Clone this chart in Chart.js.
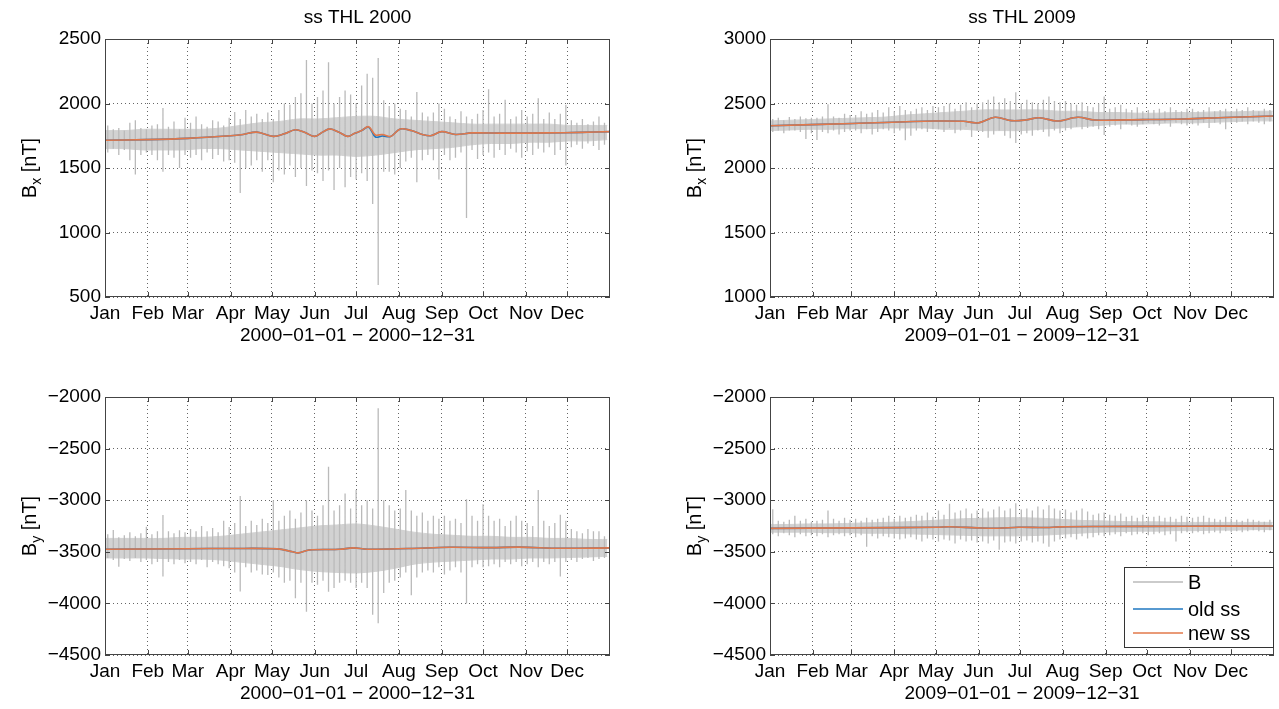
<!DOCTYPE html>
<html>
<head>
<meta charset="utf-8">
<script src="https://cdn.jsdelivr.net/npm/chart.js@4.4.1/dist/chart.umd.min.js"></script>
<style>
  html, body { margin: 0; padding: 0; background: #fff; overflow: hidden; }
  canvas { position: absolute; }
</style>
</head>
<body>
<canvas id="c1" width="640" height="351" style="left:0px;top:0px"></canvas>
<canvas id="c2" width="614" height="351" style="left:665px;top:0px"></canvas>
<canvas id="c3" width="640" height="351" style="left:0px;top:358px"></canvas>
<canvas id="c4" width="614" height="351" style="left:665px;top:358px"></canvas>
<script>
// month labels and the day each month starts on
const monthNames = ['Jan', 'Feb', 'Mar', 'Apr', 'May', 'Jun', 'Jul', 'Aug', 'Sep', 'Oct', 'Nov', 'Dec'];
const monthStarts2000 = [0, 31, 60, 91, 121, 152, 182, 213, 244, 274, 305, 335];
const monthStarts2009 = [0, 31, 59, 90, 120, 151, 181, 212, 243, 273, 304, 334];

// B: max / min of the raw field in 4-day bins
const bx2000Hi = [
  1830, 1800, 1810, 1790, 1850, 1870, 1810, 1800,
  1830, 1840, 1965, 1820, 1860, 1800, 1890,
  1850, 1900, 1840, 1820, 1870, 1860, 1830, 1890,
  1935, 1880, 1950, 1900, 1920, 1880, 1930,
  1880, 1950, 2000, 1990, 2050, 2080, 2337, 2000,
  2050, 2100, 2320, 2000, 2050, 2100, 2070, 2000,
  2140, 2230, 2200, 2352, 2025, 1980, 2000,
  1960, 1950, 1900, 2090, 1930, 1900, 1930, 2000,
  1960, 1900, 1880, 1940, 1900, 1880, 1920, 1950,
  2110, 1900, 1920, 2030, 1880, 1900, 1950,
  1900, 1920, 2040, 1880, 1930, 1880, 1920, 1990,
  1870, 1850, 1880, 1840, 1860, 1900, 1850, 1870
];
const bx2000Lo = [
  1620, 1650, 1600, 1640, 1560, 1450, 1600, 1620,
  1600, 1560, 1470, 1600, 1580, 1500, 1600,
  1580, 1600, 1560, 1620, 1570, 1600, 1550, 1560,
  1540, 1306, 1500, 1520, 1560, 1470, 1560,
  1390, 1480, 1450, 1520, 1430, 1500, 1360, 1480,
  1460, 1400, 1480, 1330, 1500, 1350, 1430, 1410,
  1460, 1400, 1220, 593, 1470, 1470, 1450,
  1500, 1550, 1580, 1390, 1560, 1600, 1560, 1410,
  1600, 1560, 1580, 1620, 1113, 1640, 1570, 1600,
  1620, 1580, 1640, 1600, 1650, 1620, 1580,
  1630, 1600, 1650, 1620, 1660, 1600, 1640, 1520,
  1660, 1680, 1650, 1690, 1670, 1640, 1680, 1690
];
const bx2009Hi = [
  2380, 2390, 2370, 2395, 2380, 2400, 2385, 2390,
  2390, 2400, 2495, 2400, 2390, 2420, 2410,
  2410, 2440, 2420, 2430, 2450, 2430, 2470, 2440,
  2480, 2450, 2440, 2460, 2470, 2450, 2480,
  2470, 2480, 2500, 2460, 2490, 2510, 2470, 2500,
  2510, 2530, 2554, 2510, 2540, 2520, 2587, 2500,
  2530, 2510, 2500, 2530, 2554, 2520, 2510,
  2520, 2500, 2490, 2510, 2480, 2470, 2500, 2554,
  2460, 2470, 2490, 2460, 2450, 2470, 2440, 2450,
  2450, 2460, 2440, 2470, 2450, 2440, 2460,
  2460, 2440, 2450, 2470, 2440, 2450, 2460, 2440,
  2460, 2450, 2470, 2450, 2440, 2460, 2450, 2460
];
const bx2009Lo = [
  2280, 2290, 2270, 2290, 2290, 2280, 2225, 2270,
  2218, 2280, 2270, 2290, 2260, 2280, 2290,
  2290, 2270, 2300, 2260, 2280, 2300, 2290, 2270,
  2290, 2215, 2250, 2290, 2300, 2280, 2300,
  2300, 2280, 2310, 2270, 2290, 2320, 2240, 2290,
  2280, 2235, 2260, 2290, 2250, 2230, 2194, 2260,
  2270, 2250, 2290, 2280, 2245, 2290, 2270,
  2290, 2300, 2320, 2300, 2310, 2320, 2300, 2255,
  2320, 2330, 2300, 2340, 2330, 2320, 2340, 2350,
  2340, 2330, 2350, 2320, 2350, 2340, 2330,
  2340, 2330, 2350, 2310, 2350, 2340, 2300, 2350,
  2350, 2360, 2340, 2360, 2350, 2340, 2360, 2370
];
const by2000Hi = [
  -3330, -3289, -3360, -3340, -3310, -3350, -3320, -3257,
  -3330, -3300, -3143, -3300, -3320, -3290, -3310,
  -3280, -3300, -3250, -3300, -3270, -3310, -3200, -3260,
  -3220, -2959, -3250, -3200, -3240, -3180, -3220,
  -3000, -3200, -3150, -3100, -3180, -3120, -3000, -3100,
  -3150, -3050, -2675, -3100, -3050, -2935, -3080, -2900,
  -3050, -3000, -3080, -2110, -3000, -3050, -3100,
  -3080, -2900, -3100, -3150, -3120, -3200, -3150, -3180,
  -3150, -3200, -3180, -3220, -2990, -3150, -3200, -3040,
  -3150, -3200, -3180, -3250, -3200, -3150, -3200,
  -3220, -3250, -2900, -3200, -3250, -3220, -3140, -3200,
  -3280, -3300, -3320, -3280, -3300, -3300, -3350, -3330
];
const by2000Lo = [
  -3560, -3580, -3644, -3570, -3590, -3560, -3600, -3580,
  -3620, -3600, -3740, -3600, -3620, -3580, -3610,
  -3600, -3620, -3580, -3650, -3600, -3620, -3640, -3660,
  -3700, -3884, -3650, -3700, -3680, -3720, -3725,
  -3700, -3750, -3800, -3780, -3950, -3800, -4080, -3800,
  -3820, -3780, -3886, -3850, -3800, -3780, -3800, -3850,
  -3800, -3850, -4110, -4193, -3900, -3800, -3780,
  -3750, -3700, -3920, -3750, -3700, -3680, -3700, -3650,
  -3720, -3680, -3650, -3700, -4000, -3650, -3620, -3650,
  -3640, -3620, -3650, -3600, -3620, -3600, -3640,
  -3620, -3600, -3650, -3600, -3620, -3600, -3740, -3600,
  -3580, -3600, -3570, -3560, -3590, -3570, -3560, -3550
];
const by2009Hi = [
  -3088, -3200, -3210, -3190, -3150, -3200, -3180, -3210,
  -3200, -3190, -3100, -3180, -3200, -3170, -3190,
  -3180, -3200, -3170, -3190, -3180, -3170, -3150, -3180,
  -3150, -3170, -3160, -3140, -3150, -3120, -3160,
  -3100, -3140, -3035, -3120, -3100, -3080, -3130, -3100,
  -3080, -3110, -3090, -3060, -3100, -3080, -3030, -3090,
  -3080, -3100, -3060, -3090, -3050, -3080, -3100,
  -3090, -3120, -3100, -3080, -3110, -3140, -3130, -3120,
  -3140, -3150, -3130, -3160, -3150, -3170, -3140, -3160,
  -3160, -3150, -3170, -3160, -3180, -3150, -3160,
  -3170, -3160, -3150, -3170, -3180, -3190, -3160, -3180,
  -3190, -3200, -3180, -3190, -3200, -3210, -3190, -3200
];
const by2009Lo = [
  -3330, -3350, -3320, -3340, -3360, -3330, -3350, -3340,
  -3350, -3330, -3360, -3340, -3330, -3350, -3340,
  -3360, -3340, -3450, -3350, -3370, -3350, -3360, -3370,
  -3380, -3370, -3360, -3380, -3400, -3370, -3380,
  -3400, -3380, -3390, -3420, -3380, -3400, -3390, -3410,
  -3400, -3420, -3390, -3480, -3410, -3400, -3420, -3400,
  -3390, -3410, -3400, -3420, -3450, -3400, -3380,
  -3370, -3360, -3380, -3350, -3370, -3360, -3340, -3350,
  -3340, -3330, -3350, -3320, -3340, -3330, -3320, -3340,
  -3330, -3320, -3340, -3330, -3400, -3320, -3310,
  -3320, -3310, -3330, -3320, -3310, -3320, -3300, -3310,
  -3300, -3310, -3300, -3290, -3300, -3310, -3290, -3300
];

// dense core of B, upper and lower edge every 14 days
const bx2000CoreHi = [1790, 1790, 1800, 1800, 1800, 1800, 1810, 1830, 1850, 1860, 1880, 1880, 1890, 1900, 1900, 1880, 1870, 1860, 1850, 1840, 1840, 1840, 1840, 1840, 1830, 1830, 1830];
const bx2000CoreLo = [1650, 1650, 1640, 1640, 1640, 1650, 1650, 1640, 1630, 1620, 1610, 1600, 1600, 1590, 1600, 1620, 1640, 1650, 1660, 1680, 1690, 1690, 1700, 1700, 1710, 1710, 1720];
const bx2009CoreHi = [2365, 2370, 2375, 2380, 2385, 2390, 2395, 2410, 2420, 2430, 2440, 2450, 2450, 2450, 2450, 2440, 2440, 2430, 2430, 2425, 2425, 2430, 2430, 2435, 2435, 2440, 2440];
const bx2009CoreLo = [2290, 2295, 2300, 2300, 2305, 2305, 2310, 2310, 2310, 2300, 2300, 2290, 2290, 2290, 2300, 2310, 2320, 2330, 2340, 2340, 2345, 2350, 2350, 2355, 2360, 2365, 2365];
const by2000CoreHi = [-3370, -3370, -3370, -3370, -3360, -3360, -3350, -3330, -3310, -3290, -3270, -3250, -3240, -3230, -3250, -3280, -3310, -3330, -3340, -3350, -3350, -3360, -3360, -3370, -3370, -3380, -3380];
const by2000CoreLo = [-3560, -3560, -3560, -3565, -3570, -3570, -3580, -3600, -3620, -3640, -3670, -3690, -3700, -3705, -3690, -3660, -3620, -3600, -3590, -3580, -3570, -3570, -3560, -3560, -3555, -3550, -3545];
const by2009CoreHi = [-3235, -3235, -3230, -3230, -3225, -3220, -3215, -3210, -3200, -3190, -3180, -3175, -3170, -3170, -3175, -3185, -3195, -3200, -3205, -3210, -3210, -3215, -3215, -3215, -3215, -3215, -3215];
const by2009CoreLo = [-3310, -3310, -3310, -3315, -3315, -3320, -3320, -3325, -3330, -3335, -3340, -3345, -3345, -3345, -3340, -3330, -3320, -3310, -3305, -3300, -3300, -3295, -3295, -3290, -3290, -3285, -3285];

// secular/seasonal baseline ("ss"), old and new estimate
const ssDaysBx2000 = [0, 30, 60, 91, 100, 110, 122, 130, 138, 145, 152, 158, 163, 170, 176, 181, 186, 191, 196, 201, 207, 214, 222, 230, 236, 244, 254, 266, 290, 320, 345, 366];
const newSsBx2000 = [1715, 1720, 1730, 1750, 1760, 1778, 1745, 1765, 1796, 1775, 1745, 1780, 1803, 1775, 1745, 1769, 1790, 1820, 1756, 1760, 1745, 1803, 1790, 1760, 1750, 1782, 1760, 1772, 1770, 1772, 1776, 1782];
const oldSsBx2000 = [1715, 1720, 1730, 1750, 1760, 1778, 1745, 1765, 1796, 1775, 1745, 1780, 1803, 1775, 1745, 1769, 1790, 1818, 1740, 1748, 1745, 1803, 1790, 1760, 1750, 1782, 1760, 1772, 1770, 1772, 1776, 1782];
const ssDaysBx2009 = [0, 60, 119, 140, 151, 163, 175, 185, 195, 208, 223, 235, 270, 300, 330, 365];
const newSsBx2009 = [2328, 2345, 2364, 2362, 2350, 2393, 2367, 2372, 2390, 2364, 2393, 2372, 2375, 2380, 2392, 2403];
const oldSsBx2009 = [2328, 2345, 2364, 2362, 2350, 2393, 2367, 2372, 2390, 2364, 2393, 2372, 2375, 2380, 2392, 2403];
const ssDaysBy2000 = [0, 60, 91, 125, 136, 140, 148, 170, 180, 190, 220, 250, 280, 300, 330, 366];
const newSsBy2000 = [-3475, -3470, -3468, -3472, -3500, -3510, -3482, -3476, -3462, -3475, -3468, -3456, -3460, -3455, -3466, -3462];
const oldSsBy2000 = [-3475, -3470, -3468, -3472, -3500, -3510, -3482, -3476, -3462, -3475, -3468, -3456, -3460, -3455, -3466, -3462];
const ssDaysBy2009 = [0, 60, 121, 130, 150, 165, 180, 200, 210, 240, 300, 365];
const newSsBy2009 = [-3273, -3268, -3262, -3257, -3268, -3272, -3262, -3265, -3258, -3255, -3253, -3250];
const oldSsBy2009 = [-3273, -3268, -3262, -3257, -3268, -3272, -3262, -3265, -3258, -3255, -3253, -3250];

Chart.defaults.font.family = '"Liberation Sans", Arial, sans-serif';

const GRAY = '#bababa';
const CORE = '#d2d2d2';
const BLUE = '#1f77c0';
const ORANGE = '#e2784a';
const FONT = '"Liberation Sans", Arial, sans-serif';

// closed box + inward tick marks like the matlab axes
const framePlugin = {
  id: 'frame',
  afterDraw(chart) {
    const {ctx, chartArea: a, scales} = chart;
    ctx.save();
    ctx.strokeStyle = '#444';
    ctx.lineWidth = 1;
    ctx.strokeRect(a.left + 0.5, a.top + 0.5, a.width - 1, a.height - 1);
    ctx.beginPath();
    scales.x.ticks.forEach(t => {
      const px = Math.round(scales.x.getPixelForValue(t.value)) + 0.5;
      ctx.moveTo(px, a.bottom); ctx.lineTo(px, a.bottom - 5);
      ctx.moveTo(px, a.top); ctx.lineTo(px, a.top + 5);
    });
    scales.y.ticks.forEach(t => {
      const py = Math.round(scales.y.getPixelForValue(t.value)) + 0.5;
      ctx.moveTo(a.left, py); ctx.lineTo(a.left + 5, py);
      ctx.moveTo(a.right, py); ctx.lineTo(a.right - 5, py);
    });
    ctx.stroke();
    ctx.restore();
  }
};

// y axis title with a subscript: B_x [nT]
const yLabelPlugin = {
  id: 'yLabel',
  afterDraw(chart, args, opts) {
    const {ctx, chartArea} = chart;
    ctx.save();
    ctx.translate(opts.x, (chartArea.top + chartArea.bottom) / 2);
    ctx.rotate(-Math.PI / 2);
    ctx.fillStyle = '#000';
    ctx.textBaseline = 'alphabetic';
    const big = '20px ' + FONT, small = '14px ' + FONT;
    ctx.font = big;
    const wB = ctx.measureText('B').width;
    const wRest = ctx.measureText(' [nT]').width;
    ctx.font = small;
    const wS = ctx.measureText(opts.sub).width;
    let x0 = -(wB + wS + wRest) / 2;
    ctx.font = big; ctx.fillText('B', x0, 0);
    ctx.font = small; ctx.fillText(opts.sub, x0 + wB, 5);
    ctx.font = big; ctx.fillText(' [nT]', x0 + wB + wS, 0);
    ctx.restore();
  }
};

// boxed legend in the lower right corner
const boxLegendPlugin = {
  id: 'boxLegend',
  afterDraw(chart, args, opts) {
    if (!opts.show) return;
    const {ctx, chartArea: a} = chart;
    const x0 = a.right - 150, y0 = a.bottom - 88;
    ctx.save();
    ctx.fillStyle = '#fff';
    ctx.fillRect(x0, y0, 150, 81);
    ctx.strokeStyle = '#333';
    ctx.lineWidth = 1;
    ctx.strokeRect(x0 + 0.5, y0 + 0.5, 149, 80);
    const rows = [15, 42, 66];
    ['B', 'old ss', 'new ss'].forEach((lbl, i) => {
      const ds = chart.data.datasets.find(d => d.label === lbl);
      const y = y0 + rows[i];
      ctx.strokeStyle = ds.borderColor;
      ctx.lineWidth = 1.5;
      ctx.beginPath(); ctx.moveTo(x0 + 9, y); ctx.lineTo(x0 + 59, y); ctx.stroke();
      ctx.fillStyle = '#000';
      ctx.font = '20px ' + FONT;
      ctx.textBaseline = 'middle';
      ctx.fillText(lbl, x0 + 64, y + 1);
    });
    ctx.restore();
  }
};

function makeChart(id, p) {
  // each 4-day bin is one vertical stroke from min to max, broken by a null
  const raw = [];
  p.hi.forEach((h, i) => {
    raw.push({x: i * 4 + 2, y: h});
    raw.push({x: i * 4 + 2, y: p.lo[i]});
    raw.push({x: i * 4 + 2, y: null});
  });
  const coreHi = p.coreHi.map((v, i) => ({x: Math.min(i * 14, p.days), y: v}));
  const coreLo = p.coreLo.map((v, i) => ({x: Math.min(i * 14, p.days), y: v}));
  const ssNew = p.ssDays.map((d, i) => ({x: d, y: p.ssNew[i]}));
  const ssOld = p.ssDays.map((d, i) => ({x: d, y: p.ssOld[i]}));
  const grid = {color: 'rgba(0,0,0,0.6)', lineWidth: 1, drawTicks: false};
  const border = {display: false, dash: [1, 3]};

  return new Chart(document.getElementById(id), {
    type: 'line',
    data: {
      datasets: [
        {label: 'new ss', data: ssNew, borderColor: ORANGE, borderWidth: 1.6, tension: 0.35, order: 1},
        {label: 'old ss', data: ssOld, borderColor: BLUE, borderWidth: 1.6, tension: 0.35, order: 2},
        {label: 'B', data: raw, borderColor: GRAY, borderWidth: 1.3, tension: 0, spanGaps: false, order: 3},
        {label: 'B core', data: coreHi, borderColor: CORE, borderWidth: 1, backgroundColor: CORE,
         fill: '+1', tension: 0.3, order: 4},
        {label: 'B core low', data: coreLo, borderColor: CORE, borderWidth: 1, tension: 0.3, order: 5}
      ]
    },
    options: {
      responsive: false,
      animation: false,
      events: [],
      elements: {point: {radius: 0}},
      layout: {padding: {top: p.title ? 0 : 39, right: p.padRight, bottom: 0, left: 0}},
      plugins: {
        legend: {display: false},
        tooltip: {enabled: false},
        filler: {propagate: false},
        title: {
          display: !!p.title, text: p.title, fullSize: false, color: '#000',
          font: {size: 19, weight: 'normal'}, padding: {top: 6, bottom: 10.2}
        },
        yLabel: {sub: p.sub, x: 36},
        boxLegend: {show: !!p.legend}
      },
      scales: {
        x: {
          type: 'linear', min: 0, max: p.days,
          afterBuildTicks: s => { s.ticks = p.months.map(v => ({value: v})); },
          afterFit: s => { s.height = 54; },
          ticks: {color: '#000', font: {size: 19}, padding: 5, maxRotation: 0, autoSkip: false,
                  callback: (v, i) => monthNames[i]},
          grid: grid,
          border: border,
          title: {display: true, text: p.range, color: '#000', font: {size: 19}, padding: {top: 0, bottom: 4}}
        },
        y: {
          min: p.yMin, max: p.yMax,
          afterFit: s => { s.width = 105; },
          ticks: {stepSize: 500, color: '#000', font: {size: 19}, padding: 4,
                  callback: v => String(v).replace('-', '\u2212')},
          grid: grid,
          border: border
        }
      }
    },
    plugins: [framePlugin, yLabelPlugin, boxLegendPlugin]
  });
}

const range2000 = '2000\u221201\u221201 \u2212 2000\u221212\u221231';
const range2009 = '2009\u221201\u221201 \u2212 2009\u221212\u221231';

makeChart('c1', {title: 'ss THL 2000', sub: 'x', hi: bx2000Hi, lo: bx2000Lo,
  coreHi: bx2000CoreHi, coreLo: bx2000CoreLo, ssDays: ssDaysBx2000,
  ssNew: newSsBx2000, ssOld: oldSsBx2000, yMin: 500, yMax: 2500, days: 366, months: monthStarts2000,
  range: range2000, padRight: 30});
makeChart('c2', {title: 'ss THL 2009', sub: 'x', hi: bx2009Hi, lo: bx2009Lo,
  coreHi: bx2009CoreHi, coreLo: bx2009CoreLo, ssDays: ssDaysBx2009,
  ssNew: newSsBx2009, ssOld: oldSsBx2009, yMin: 1000, yMax: 3000, days: 365, months: monthStarts2009,
  range: range2009, padRight: 5});
makeChart('c3', {title: '', sub: 'y', hi: by2000Hi, lo: by2000Lo,
  coreHi: by2000CoreHi, coreLo: by2000CoreLo, ssDays: ssDaysBy2000,
  ssNew: newSsBy2000, ssOld: oldSsBy2000, yMin: -4500, yMax: -2000, days: 366, months: monthStarts2000,
  range: range2000, padRight: 30});
makeChart('c4', {title: '', sub: 'y', hi: by2009Hi, lo: by2009Lo,
  coreHi: by2009CoreHi, coreLo: by2009CoreLo, ssDays: ssDaysBy2009,
  ssNew: newSsBy2009, ssOld: oldSsBy2009, yMin: -4500, yMax: -2000, days: 365, months: monthStarts2009,
  range: range2009, padRight: 5, legend: true});
</script>
</body>
</html>
